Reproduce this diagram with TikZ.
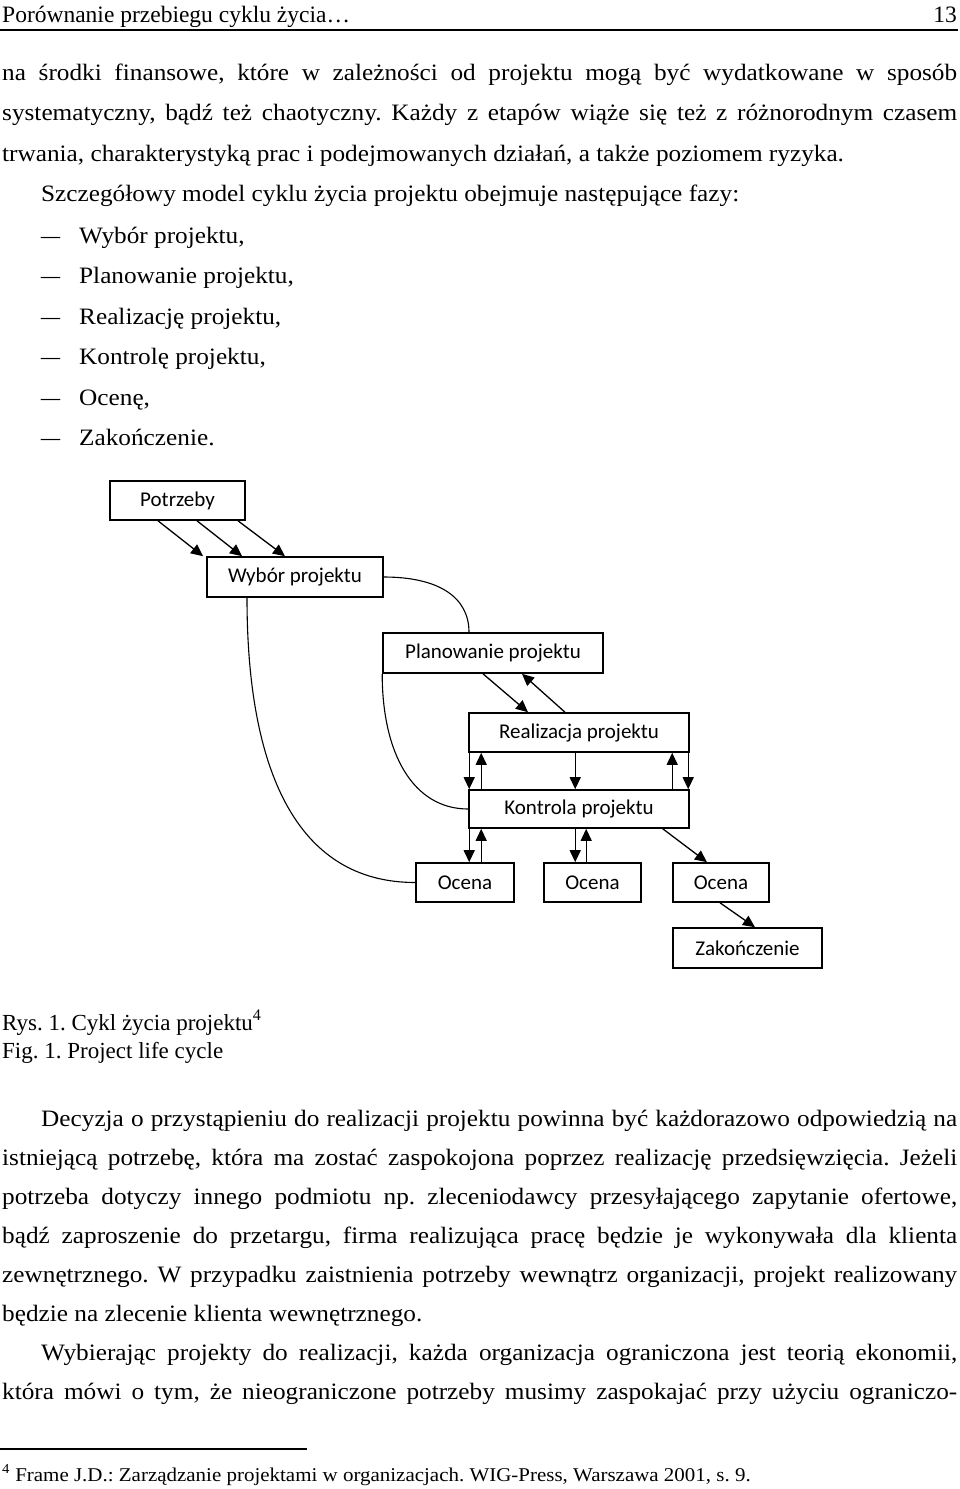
\documentclass[tikz,border=0pt]{standalone}
\usepackage{fontspec}
\setmainfont{Liberation Serif}
\newfontfamily\bodyfont{Liberation Serif}[FakeStretch=1.075]
\newfontfamily\diagfont{Carlito}
\usetikzlibrary{arrows.meta}
\frenchspacing

\begin{document}
\begin{tikzpicture}[x=1pt, y=-1pt,
        box/.style = {shape=rectangle, draw, line width=1.6pt,
            inner sep=0pt, font=\diagfont\fontsize{21}{24}\selectfont},
        arr/.style = {line width=1.3pt, -{Triangle[length=12pt,width=11pt]}},
        link/.style = {line width=1.1pt},
        txtline/.style = {anchor=base west, inner sep=0pt,
            font=\bodyfont\fontsize{23.5}{28}\selectfont},
        smallline/.style = {anchor=base west, inner sep=0pt,
            font=\fontsize{23}{28}\selectfont}]
    \useasboundingbox (0,0) rectangle (960,1489);

    % page head
    \node[smallline, font=\fontsize{23.5}{28}\selectfont] (head) at (2,22) {Porównanie przebiegu cyklu życia…};
    \node[smallline, anchor=base east, font=\fontsize{23.5}{28}\selectfont] (pageno) at (957,22) {13};
    \draw[line width=1.2pt] (0,30) coordinate (hl) -- (958,30) coordinate (hr);

    % text before the figure
    \node[txtline] (t1) at (2,80) {\makebox[955pt][s]{na środki finansowe, które w zależności od projektu mogą być wydatkowane w sposób}};
    \node[txtline] (t2) at (2,120) {\makebox[955pt][s]{systematyczny, bądź też chaotyczny. Każdy z etapów wiąże się też z różnorodnym czasem}};
    \node[txtline] (t3) at (2,161) {trwania, charakterystyką prac i podejmowanych działań, a także poziomem ryzyka.};
    \node[txtline] (t4) at (41,201) {Szczegółowy model cyklu życia projektu obejmuje następujące fazy:};
    \foreach \phase [count=\i] in {{Wybór projektu,}, {Planowanie projektu,}, {Realizację projektu,},
            {Kontrolę projektu,}, {Ocenę,}, {Zakończenie.}} {
        \node[txtline] (dash\i) at (41,202.5+40.5*\i) {\scalebox{1.5}[1]{–}};
        \node[txtline] (item\i) at (79,202.5+40.5*\i) {\phase};
    }

    % figure
    \node[box, minimum width=135pt, minimum height=39pt] (potrzeby) at (177.5,500.5) {Potrzeby};
    \node[box, minimum width=176pt, minimum height=40pt] (wybor) at (295,577) {Wybór projektu};
    \node[box, minimum width=220pt, minimum height=40pt] (plan) at (493,653) {Planowanie projektu};
    \node[box, minimum width=220pt, minimum height=39pt] (real) at (579,732.5) {Realizacja projektu};
    \node[box, minimum width=220pt, minimum height=38pt] (kontr) at (579,809) {Kontrola projektu};
    \node[box, minimum width=98pt, minimum height=39pt] (ocena1) at (465,882.5) {Ocena};
    \node[box, minimum width=97pt, minimum height=39pt] (ocena2) at (592.5,882.5) {Ocena};
    \node[box, minimum width=96pt, minimum height=39pt] (ocena3) at (721,882.5) {Ocena};
    \node[box, minimum width=149pt, minimum height=40pt] (zak) at (747.5,948) {Zakończenie};

    \draw[arr] ([xshift=-19.5pt]potrzeby.south) -- ([xshift=-92pt]wybor.north);
    \draw[arr] ([xshift=19.5pt]potrzeby.south) -- ([xshift=-53pt]wybor.north);
    \draw[arr] ([xshift=60.5pt]potrzeby.south) -- ([xshift=-10pt]wybor.north);

    \draw[arr] ([xshift=-10pt]plan.south) -- ([xshift=-51pt]real.north);
    \draw[arr] ([xshift=-14pt]real.north) -- ([xshift=29pt]plan.south);

    \foreach \dx in {1,107,220}
        \draw[arr] ([xshift=\dx pt]real.south west) -- ([xshift=\dx pt]real.south west |- kontr.north);
    \foreach \dx in {13,204}
        \draw[arr] ([xshift=\dx pt]kontr.north west) -- ([xshift=\dx pt]kontr.north west |- real.south);

    \draw[arr] ([xshift=1pt]kontr.south west) -- ([xshift=1pt]kontr.south west |- ocena1.north);
    \draw[arr] ([xshift=13pt]ocena1.north west -| kontr.south west) -- ([xshift=13pt]kontr.south west);
    \draw[arr] ([xshift=107pt]kontr.south west) -- ([xshift=107pt]kontr.south west |- ocena2.north);
    \draw[arr] ([xshift=118pt]ocena2.north west -| kontr.south west) -- ([xshift=118pt]kontr.south west);
    \draw[arr] ([xshift=-27pt]kontr.south east) -- ([xshift=-14pt]ocena3.north);
    \draw[arr] ([xshift=-1pt]ocena3.south) -- ([xshift=7.5pt]zak.north);

    \draw[link] (wybor.east) .. controls +(55,0) and +(0,-35) .. ([xshift=-24pt]plan.north);
    \draw[link] ([xshift=-48pt]wybor.south) .. controls +(0,170) and +(-120,0) .. (ocena1.west);
    \draw[link] (plan.south west) .. controls +(0,80) and +(-55,0) .. (kontr.west);

    % captions
    \node[smallline] (rys) at (2,1030) {Rys. 1. Cykl życia projektu\textsuperscript{4}};
    \node[smallline] (fig) at (2,1058) {Fig. 1. Project life cycle};

    % text after the figure
    \node[txtline] (u1) at (41,1126) {\makebox[916pt][s]{Decyzja o przystąpieniu do realizacji projektu powinna być każdorazowo odpowiedzią na}};
    \node[txtline] (u2) at (2,1165) {\makebox[955pt][s]{istniejącą potrzebę, która ma zostać zaspokojona poprzez realizację przedsięwzięcia. Jeżeli}};
    \node[txtline] (u3) at (2,1204) {\makebox[955pt][s]{potrzeba dotyczy innego podmiotu np. zleceniodawcy przesyłającego zapytanie ofertowe,}};
    \node[txtline] (u4) at (2,1243) {\makebox[955pt][s]{bądź zaproszenie do przetargu, firma realizująca pracę będzie je wykonywała dla klienta}};
    \node[txtline] (u5) at (2,1282) {\makebox[955pt][s]{zewnętrznego. W przypadku zaistnienia potrzeby wewnątrz organizacji, projekt realizowany}};
    \node[txtline] (u6) at (2,1321) {będzie na zlecenie klienta wewnętrznego.};
    \node[txtline] (v1) at (41,1360) {\makebox[916pt][s]{Wybierając projekty do realizacji, każda organizacja ograniczona jest teorią ekonomii,}};
    \node[txtline] (v2) at (2,1399) {\makebox[955pt][s]{która mówi o tym, że nieograniczone potrzeby musimy zaspokajać przy użyciu ograniczo-}};

    % footnote
    \draw[line width=1.2pt] (0,1449) coordinate (fl) -- (307,1449) coordinate (fr);
    \node[txtline, font=\bodyfont\fontsize{19.5}{24}\selectfont] (fn) at (2,1481)
        {\textsuperscript{4} Frame J.D.: Zarządzanie projektami w organizacjach. WIG-Press, Warszawa 2001, s. 9.};
\end{tikzpicture}
\end{document}
